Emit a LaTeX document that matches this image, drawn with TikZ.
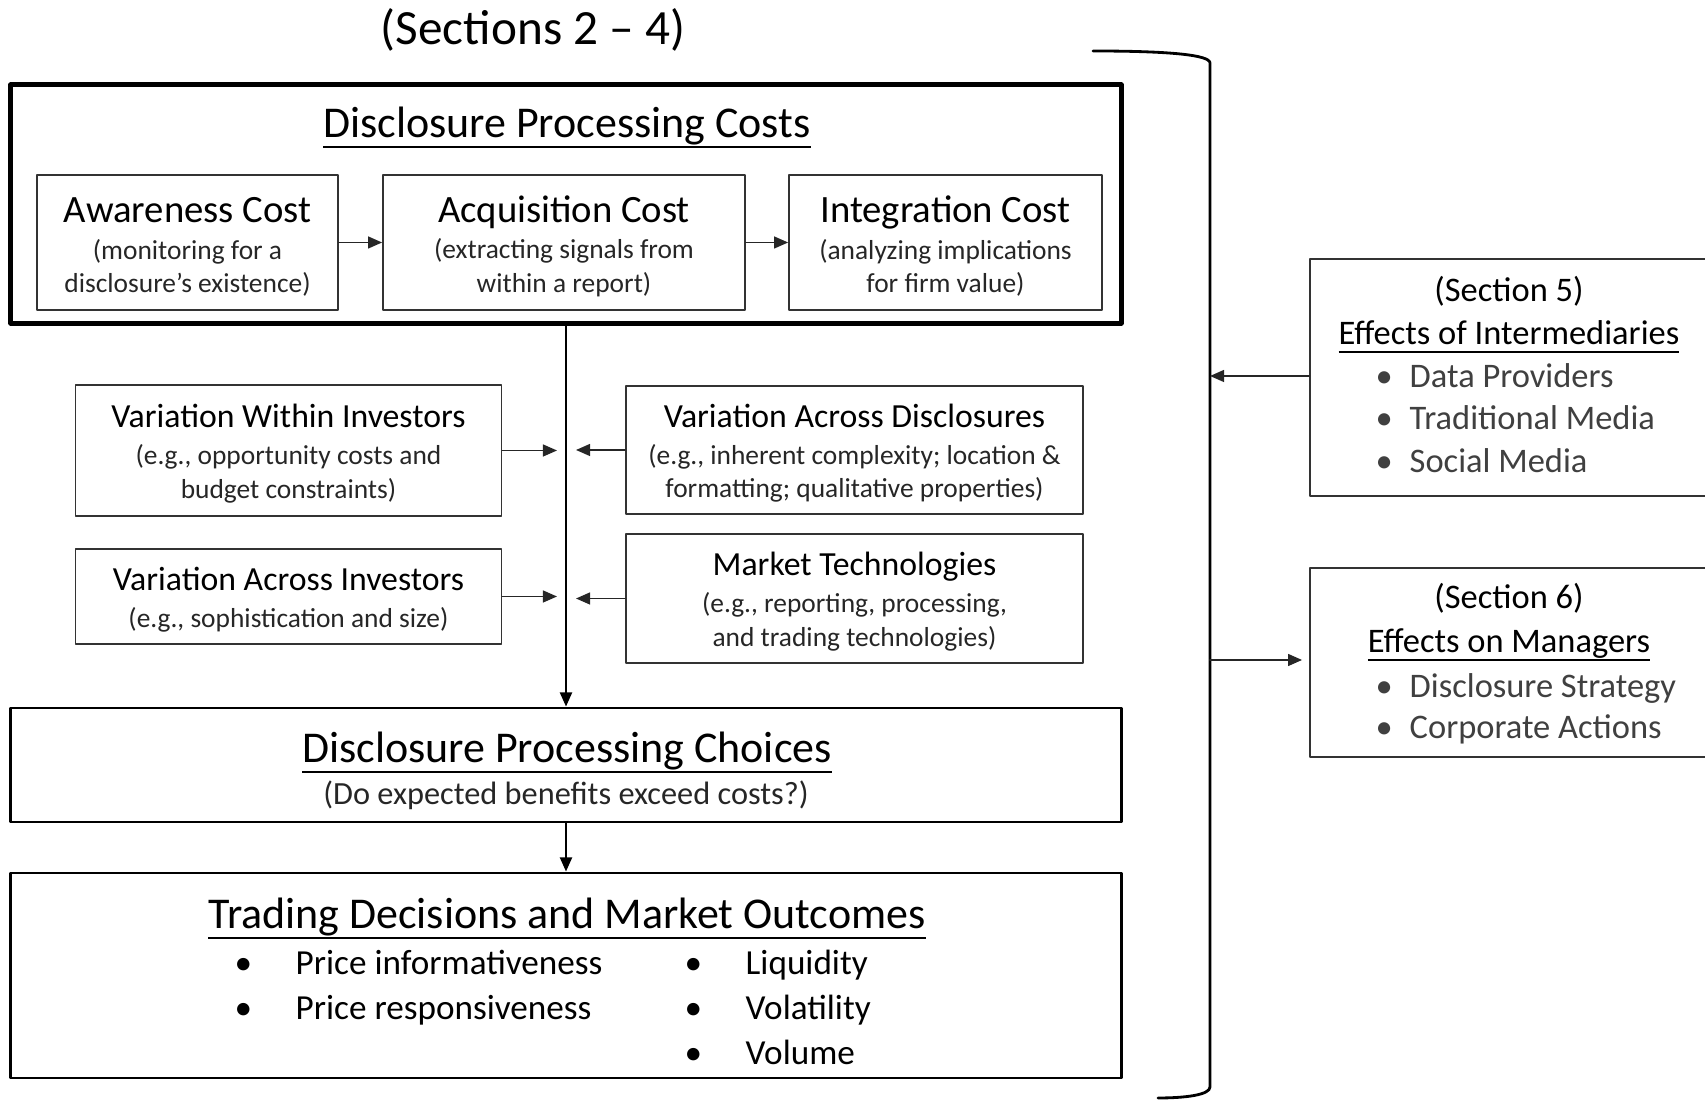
\documentclass[tikz,border=0pt]{standalone}
\usepackage{fontspec}
\setmainfont{Carlito}
\usetikzlibrary{arrows.meta}

\newcommand{\fsz}[2]{\fontsize{#1}{#2}\selectfont}
\newcommand{\itembul}[2]{\makebox[#1][l]{\textbullet}#2}
\newsavebox{\ttlbox}
\newcommand{\ttl}[1]{\sbox{\ttlbox}{#1}\rlap{\rule[-0.23em]{\wd\ttlbox}{0.05em}}\usebox{\ttlbox}}
\newcommand{\boxhead}[2]{{\fsz{#1}{#1}\color{black}\rule{0pt}{0.88em}#2}}

\begin{document}
\begin{tikzpicture}[x=0.01cm,y=-0.01cm,line cap=round,line join=round,
    >={Triangle[length=4pt,width=3.4pt]},
    thin line/.style={line width=0.45pt,draw=black!85},
    costbox/.style={draw=black!80,line width=0.45pt,inner sep=0pt,align=center,
        minimum height=1.35cm,text=black!85,font=\fsz{7.8}{9.5}},
    varbox/.style={draw=black!80,line width=0.45pt,inner sep=0pt,align=center,
        text=black!85,font=\fsz{7.8}{9.5}},
    widebox/.style={draw,line width=0.8pt,inner sep=0pt,minimum width=11.1cm},
    sidebox/.style={draw=black!80,line width=0.45pt,inner sep=0pt,minimum width=3.98cm},
    bigtitle/.style={anchor=base,inner sep=0pt,font=\fsz{12.5}{15}},
    sidetext/.style={anchor=base,inner sep=0pt,font=\fsz{9.8}{12}},
    sidebul/.style={anchor=base west,inner sep=0pt,text=black!75,font=\fsz{9.8}{12}},
    outbul/.style={anchor=base west,inner sep=0pt,font=\fsz{10}{12}}]
    \useasboundingbox (0,0) rectangle (1705,1101);

    \node[anchor=base,inner sep=0pt,font=\fsz{14}{16}] (sections) at (533,45) {(Sections 2 – 4)};

    % processing costs
    \node[draw,line width=1.4pt,inner sep=0pt,minimum width=11.1cm,minimum height=2.38cm] (costs) at (566,204) {};
    \node[bigtitle] (coststitle) at (567,138) {\ttl{Disclosure Processing Costs}};

    \node[costbox,minimum width=3.01cm] (aware) at (187.5,242.5)
        {\boxhead{11}{Awareness Cost}\\[0.8pt](monitoring for a\\disclosure’s existence)};
    \node[costbox,minimum width=3.62cm] (acquire) at (564,242.5)
        {\boxhead{11}{Acquisition Cost}\\[0.8pt](extracting signals from\\within a report)};
    \node[costbox,minimum width=3.13cm] (integrate) at (945.5,242.5)
        {\boxhead{11}{Integration Cost}\\[0.8pt](analyzing implications\\for firm value)};

    \draw[->,thin line] (aware) -- (acquire);
    \draw[->,thin line] (acquire) -- (integrate);

    % variation boxes
    \node[varbox,minimum width=4.26cm,minimum height=1.31cm] (within) at (288.5,450.5)
        {\boxhead{9.6}{Variation Within Investors}\\[1pt](e.g., opportunity costs and\\budget constraints)};
    \node[varbox,minimum width=4.26cm,minimum height=0.95cm] (acrossinv) at (288.5,596.5)
        {\boxhead{9.6}{Variation Across Investors}\\[1pt](e.g., sophistication and size)};
    \node[varbox,minimum width=4.57cm,minimum height=1.28cm] (acrossdisc) at (854.5,450)
        {\boxhead{9.6}{Variation Across Disclosures}\\[1pt](e.g., inherent complexity; location \&\\formatting; qualitative properties)};
    \node[varbox,minimum width=4.57cm,minimum height=1.29cm] (markettech) at (854.5,598.5)
        {\boxhead{9.6}{Market Technologies}\\[1pt](e.g., reporting, processing,\\and trading technologies)};

    % choices and outcomes
    \node[widebox,minimum height=1.14cm] (choices) at (566,765) {};
    \node[bigtitle] (choicestitle) at (567,763) {\ttl{Disclosure Processing Choices}};
    \node[anchor=base,inner sep=0pt,text=black!85,font=\fsz{9.2}{11}] (choicessub) at (566,805) {(Do expected benefits exceed costs?)};

    \node[widebox,minimum height=2.05cm] (trade) at (566,975.5) {};
    \node[bigtitle] (tradetitle) at (567,929) {\ttl{Trading Decisions and Market Outcomes}};
    \foreach \txt [count=\i] in {Price informativeness,Price responsiveness}
        \node[outbul] (outl\i) at (234,{929.5+45*\i}) {\itembul{0.61cm}{\txt}};
    \foreach \txt [count=\i] in {Liquidity,Volatility,Volume}
        \node[outbul] (outr\i) at (684,{929.5+45*\i}) {\itembul{0.61cm}{\txt}};

    \draw[->,line width=0.6pt] (costs.south) -- (choices.north);
    \draw[->,line width=0.6pt] (choices.south) -- (trade.north);

    \draw[->,thin line,shorten >=0.09cm] (within.east) -- (within.east -| costs.south);
    \draw[->,thin line,shorten >=0.09cm] (acrossinv.east) -- (acrossinv.east -| costs.south);
    \draw[->,thin line,shorten >=0.1cm] (acrossdisc.west) -- (acrossdisc.west -| costs.south);
    \draw[->,thin line,shorten >=0.1cm] (markettech.west) -- (markettech.west -| costs.south);

    % bracket
    \draw[line width=0.8pt] (1093,51) .. controls (1170,51) and (1210,55) .. (1210,63)
        -- (1210,1087) .. controls (1210,1095) and (1185,1098) .. (1158,1098);
    \coordinate (brk5) at (1210,376);
    \coordinate (brk6) at (1210,660);

    % later sections
    \node[sidebox,minimum height=2.37cm] (sec5) at (1509,377.5) {};
    \node[sidetext] (sec5num) at (1509,302) {(Section 5)};
    \node[sidetext] (sec5head) at (1509,345) {\ttl{Effects of Intermediaries}};
    \foreach \txt [count=\i] in {Data Providers,Traditional Media,Social Media}
        \node[sidebul] (sec5b\i) at (1375,{345+42.4*\i}) {\itembul{0.34cm}{\txt}};

    \node[sidebox,minimum height=1.89cm] (sec6) at (1509,662.5) {};
    \node[sidetext] (sec6num) at (1509,609) {(Section 6)};
    \node[sidetext] (sec6head) at (1509,653) {\ttl{Effects on Managers}};
    \foreach \txt [count=\i] in {Disclosure Strategy,Corporate Actions}
        \node[sidebul] (sec6b\i) at (1375,{656+41.5*\i}) {\itembul{0.34cm}{\txt}};

    \draw[->,thin line] (sec5.west |- brk5) -- (brk5);
    \draw[->,thin line,shorten >=0.07cm] (brk6) -- (brk6 -| sec6.west);
\end{tikzpicture}
\end{document}
